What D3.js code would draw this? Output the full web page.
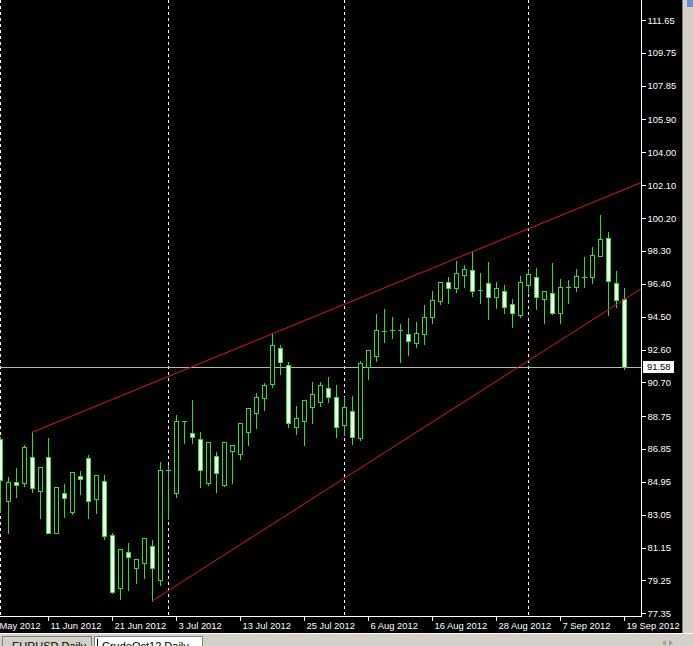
<!DOCTYPE html>
<html>
<head>
<meta charset="utf-8">
<script src="https://cdn.jsdelivr.net/npm/d3@7"></script>
<style>
  html, body { margin: 0; padding: 0; background: #000; }
  svg { display: block; }
</style>
</head>
<body>
<script>
// ---------------- DATA ----------------
const dates = [
  "1 Jun","4 Jun","5 Jun","6 Jun","7 Jun","8 Jun","11 Jun","12 Jun","13 Jun","14 Jun","15 Jun",
  "18 Jun","19 Jun","20 Jun","21 Jun","22 Jun","25 Jun","26 Jun","27 Jun","28 Jun","29 Jun",
  "2 Jul","3 Jul","4 Jul","5 Jul","6 Jul","9 Jul","10 Jul","11 Jul","12 Jul","13 Jul",
  "16 Jul","17 Jul","18 Jul","19 Jul","20 Jul","23 Jul","24 Jul","25 Jul","26 Jul","27 Jul",
  "30 Jul","31 Jul","1 Aug","2 Aug","3 Aug","6 Aug","7 Aug","8 Aug","9 Aug","10 Aug",
  "13 Aug","14 Aug","15 Aug","16 Aug","17 Aug","20 Aug","21 Aug","22 Aug","23 Aug","24 Aug",
  "27 Aug","28 Aug","29 Aug","30 Aug","31 Aug","3 Sep","4 Sep","5 Sep","6 Sep","7 Sep",
  "10 Sep","11 Sep","12 Sep","13 Sep","14 Sep","17 Sep","18 Sep","19 Sep"
];
const open = [
  87.41,83.86,84.92,84.87,86.37,84.44,86.40,82.01,84.29,83.22,85.29,
  86.31,83.94,85.00,81.88,78.83,80.88,79.99,80.24,81.26,79.27,
  85.60,84.32,88.43,87.76,87.41,84.90,86.44,84.77,86.75,86.54,
  87.81,88.91,89.81,90.59,92.67,91.70,88.10,88.48,89.29,89.58,
  90.36,89.84,88.24,89.06,87.47,91.57,92.24,93.65,93.71,93.69,
  93.48,92.96,93.48,94.46,95.42,96.49,96.14,96.91,97.20,96.04,
  96.46,95.62,95.98,95.21,94.60,96.33,96.77,95.50,95.88,94.69,
  96.21,96.20,96.79,96.81,98.01,99.03,96.46,95.50
];
const high = [
  87.54,85.21,85.73,87.08,87.81,85.79,87.47,84.63,84.83,85.50,85.58,
  86.50,85.33,85.35,82.01,81.05,81.40,80.47,81.69,81.59,86.11,
  85.92,88.81,88.48,89.68,87.81,87.24,86.69,87.24,87.06,88.33,
  89.20,90.07,90.68,93.50,92.86,91.90,89.33,89.68,90.74,90.74,
  91.03,90.55,89.84,89.91,91.95,92.60,94.65,94.94,94.46,94.07,
  94.40,94.21,95.17,95.98,96.49,96.77,97.73,97.49,98.22,97.04,
  97.64,96.50,96.33,95.50,96.85,97.24,97.30,95.98,97.58,96.66,
  96.62,97.24,97.97,98.54,100.38,99.41,97.16,96.14
];
const low = [
  83.22,82.01,84.09,84.73,84.38,82.88,81.97,81.97,82.93,83.09,84.25,
  82.88,83.17,81.63,78.54,78.18,78.70,79.12,79.41,78.06,78.99,
  82.80,84.06,87.18,87.18,84.67,84.77,84.38,84.71,84.90,86.25,
  87.08,88.05,89.10,90.42,91.17,88.14,87.72,87.08,88.33,89.33,
  89.58,87.52,87.66,87.14,87.37,90.88,91.95,93.05,93.25,91.90,
  92.28,92.73,92.90,94.12,95.21,95.27,95.94,96.20,95.69,95.31,
  94.35,95.00,94.69,93.88,94.46,95.94,94.92,94.15,94.65,94.15,
  95.27,96.00,96.20,96.43,98.01,94.60,95.04,91.46
];
const close = [
  85.06,84.92,84.75,86.95,84.58,85.79,82.01,84.63,84.00,85.50,85.13,
  83.86,85.33,81.84,78.60,81.05,80.62,80.47,81.69,79.95,85.63,
  85.63,88.47,88.45,87.52,85.63,87.24,85.44,87.24,87.06,88.33,
  89.20,89.84,90.53,92.86,91.90,88.33,88.62,89.68,90.01,90.55,
  89.87,88.14,89.26,87.52,91.80,92.57,93.73,93.67,93.73,93.71,
  93.09,93.57,94.46,95.46,96.49,96.14,97.01,97.24,95.98,96.06,
  95.62,96.14,95.07,94.69,96.49,96.95,95.62,95.98,94.69,96.20,
  96.23,96.87,96.81,98.05,98.97,96.56,95.46,91.58
];
const xTickLabels = ["30 May 2012","11 Jun 2012","21 Jun 2012","3 Jul 2012","13 Jul 2012","25 Jul 2012",
  "6 Aug 2012","16 Aug 2012","28 Aug 2012","7 Sep 2012","19 Sep 2012"];
const xTickIndex = [-2, 6, 14, 22, 30, 38, 46, 54, 62, 70, 78];
const yTickLabels = ["111.65","109.75","107.85","105.90","104.00","102.10","100.20","98.30","96.40",
  "94.50","92.60","90.70","88.75","86.85","84.95","83.05","81.15","79.25","77.35"];
const separatorIndex = [0, 21, 43, 66];          // first bar of each month
const upperLineIndex = [4, 34], upperLinePrice = [87.81, 93.50];
const lowerLineIndex = [19, 78], lowerLinePrice = [78.06, 95.48];
const bidPrice = 91.58;
const tabLabels = ["EURUSD,Daily", "CrudeOct12,Daily"];

// ---------------- LAYOUT ----------------
const W = 693, H = 646;
const plotRight = 641, plotBottom = 616;
const green = "#36d936", bearFill = "#f0fff0";
const font = "'Liberation Sans', Arial, sans-serif";

const svg = d3.select("body").append("svg").attr("width", W).attr("height", H);
svg.append("rect").attr("width", W).attr("height", H).attr("fill", "#000");

const x = d3.scaleLinear().domain([-2, 78]).range([-16, 624]);
const y = d3.scaleLinear().domain([77.35, 111.65]).range([613.3, 20]);

svg.append("defs").append("clipPath").attr("id", "plot")
  .append("rect").attr("x", 0).attr("y", 0).attr("width", plotRight).attr("height", plotBottom);

const plot = svg.append("g").attr("clip-path", "url(#plot)").attr("shape-rendering", "crispEdges");

// month separators
plot.selectAll("line.sep").data(separatorIndex).join("line")
  .attr("x1", d => Math.round(x(d)) + 0.5).attr("x2", d => Math.round(x(d)) + 0.5)
  .attr("y1", 0).attr("y2", plotBottom)
  .attr("stroke", "#fff").attr("stroke-width", 1).attr("stroke-dasharray", "3,3");

// bid line
plot.append("line")
  .attr("x1", 0).attr("x2", plotRight)
  .attr("y1", Math.round(y(bidPrice)) + 0.5).attr("y2", Math.round(y(bidPrice)) + 0.5)
  .attr("stroke", "#b8b8b8").attr("stroke-width", 1);

// candles
const idx = d3.range(dates.length);
const candles = plot.selectAll("g.c").data(idx).join("g");
candles.append("line")
  .attr("x1", i => Math.round(x(i)) + 0.5).attr("x2", i => Math.round(x(i)) + 0.5)
  .attr("y1", i => Math.round(y(high[i]))).attr("y2", i => Math.round(y(low[i])) + 1)
  .attr("stroke", green).attr("stroke-width", 1);
candles.each(function(i) {
  const g = d3.select(this);
  const cx = Math.round(x(i));
  const top = Math.round(y(Math.max(open[i], close[i])));
  const bot = Math.round(y(Math.min(open[i], close[i])));
  const bull = close[i] >= open[i];
  if (bot - top < 2) {
    g.append("rect").attr("x", cx - 2).attr("y", top).attr("width", 5).attr("height", Math.max(1, bot - top))
      .attr("fill", green);
  } else {
    g.append("rect").attr("x", cx - 2 + 0.5).attr("y", top + 0.5).attr("width", 4).attr("height", bot - top)
      .attr("fill", bull ? "#000" : bearFill).attr("stroke", green).attr("stroke-width", 1);
  }
});

// trend lines (rays extended to the right edge)
function ray(ix, px) {
  const slope = (px[1] - px[0]) / (ix[1] - ix[0]);
  const iEnd = x.invert(plotRight);
  return [[x(ix[0]), y(px[0])], [x(iEnd), y(px[0] + slope * (iEnd - ix[0]))]];
}
const lineGen = d3.line();
[ray(upperLineIndex, upperLinePrice), ray(lowerLineIndex, lowerLinePrice)].forEach(pts => {
  svg.append("path").attr("d", lineGen(pts)).attr("fill", "none")
    .attr("stroke", "#e01818").attr("stroke-width", 1);
});

// axes
const yAxis = d3.axisRight(y).tickValues(yTickLabels.map(Number))
  .tickFormat((d, i) => yTickLabels[i]).tickSize(4).tickPadding(2);
const gy = svg.append("g").attr("transform", `translate(${plotRight + 0.5},0)`).call(yAxis);
gy.select(".domain").remove();
gy.attr("color", "#fff").style("font-family", font).style("font-size", "9.4px");
gy.selectAll(".tick line").attr("shape-rendering", "crispEdges");

const xAxis = d3.axisBottom(x).tickValues(xTickIndex)
  .tickFormat((d, i) => xTickLabels[i]).tickSize(4).tickPadding(2);
const gx = svg.append("g").attr("transform", `translate(0,${plotBottom + 0.5})`).call(xAxis);
gx.select(".domain").remove();
gx.attr("color", "#fff").style("font-family", font).style("font-size", "9.4px");
gx.selectAll(".tick text").attr("text-anchor", "start").attr("x", 2);
gx.selectAll(".tick line").attr("shape-rendering", "crispEdges");

// axis frame lines
svg.append("line").attr("x1", plotRight + 0.5).attr("x2", plotRight + 0.5).attr("y1", 0).attr("y2", plotBottom + 1)
  .attr("stroke", "#fff").attr("shape-rendering", "crispEdges");
svg.append("line").attr("x1", 0).attr("x2", plotRight + 1).attr("y1", plotBottom + 0.5).attr("y2", plotBottom + 0.5)
  .attr("stroke", "#fff").attr("shape-rendering", "crispEdges");

// bid price label
const by = y(bidPrice);
svg.append("rect").attr("x", plotRight + 2).attr("y", Math.round(by) - 6).attr("width", 31).attr("height", 12)
  .attr("fill", "#fff");
svg.append("text").attr("x", plotRight + 6).attr("y", by).attr("dy", "0.34em")
  .attr("fill", "#000").style("font-family", font).style("font-size", "9.4px").text(bidPrice.toFixed(2));

// window chrome: right strip and tab bar
svg.append("rect").attr("x", 682).attr("y", 0).attr("width", 11).attr("height", H).attr("fill", "#d4d0c8");
svg.append("line").attr("x1", 682.5).attr("x2", 682.5).attr("y1", 0).attr("y2", 633).attr("stroke", "#808080");
svg.append("rect").attr("x", 687).attr("y", 0).attr("width", 6).attr("height", 7).attr("fill", "#6a8fc8");
svg.append("rect").attr("x", 0).attr("y", 633).attr("width", W).attr("height", 13).attr("fill", "#d4d0c8");
svg.append("line").attr("x1", 0).attr("x2", W).attr("y1", 633.5).attr("y2", 633.5).attr("stroke", "#ffffff");

const tabs = [{x: 2, w: 89, active: false}, {x: 94, w: 108, active: true}];
tabs.forEach((t, i) => {
  svg.append("rect").attr("x", t.x + 0.5).attr("y", 636.5).attr("width", t.w).attr("height", 12)
    .attr("fill", t.active ? "#fff" : "#d4d0c8").attr("stroke", "#808080");
  svg.append("text").attr("x", t.x + (t.active ? 8 : 10)).attr("y", 650)
    .attr("fill", "#000").style("font-family", font).style("font-size", "11px").text(tabLabels[i]);
});
svg.append("line").attr("x1", 97.5).attr("x2", 97.5).attr("y1", 639).attr("y2", 646).attr("stroke", "#000");
// tab scroll arrows
svg.append("path").attr("d", "M662,643 L666,640 L666,646 Z").attr("fill", "#a0a0a0");
svg.append("path").attr("d", "M673,643 L669,640 L669,646 Z").attr("fill", "#a0a0a0");
</script>
</body>
</html>
